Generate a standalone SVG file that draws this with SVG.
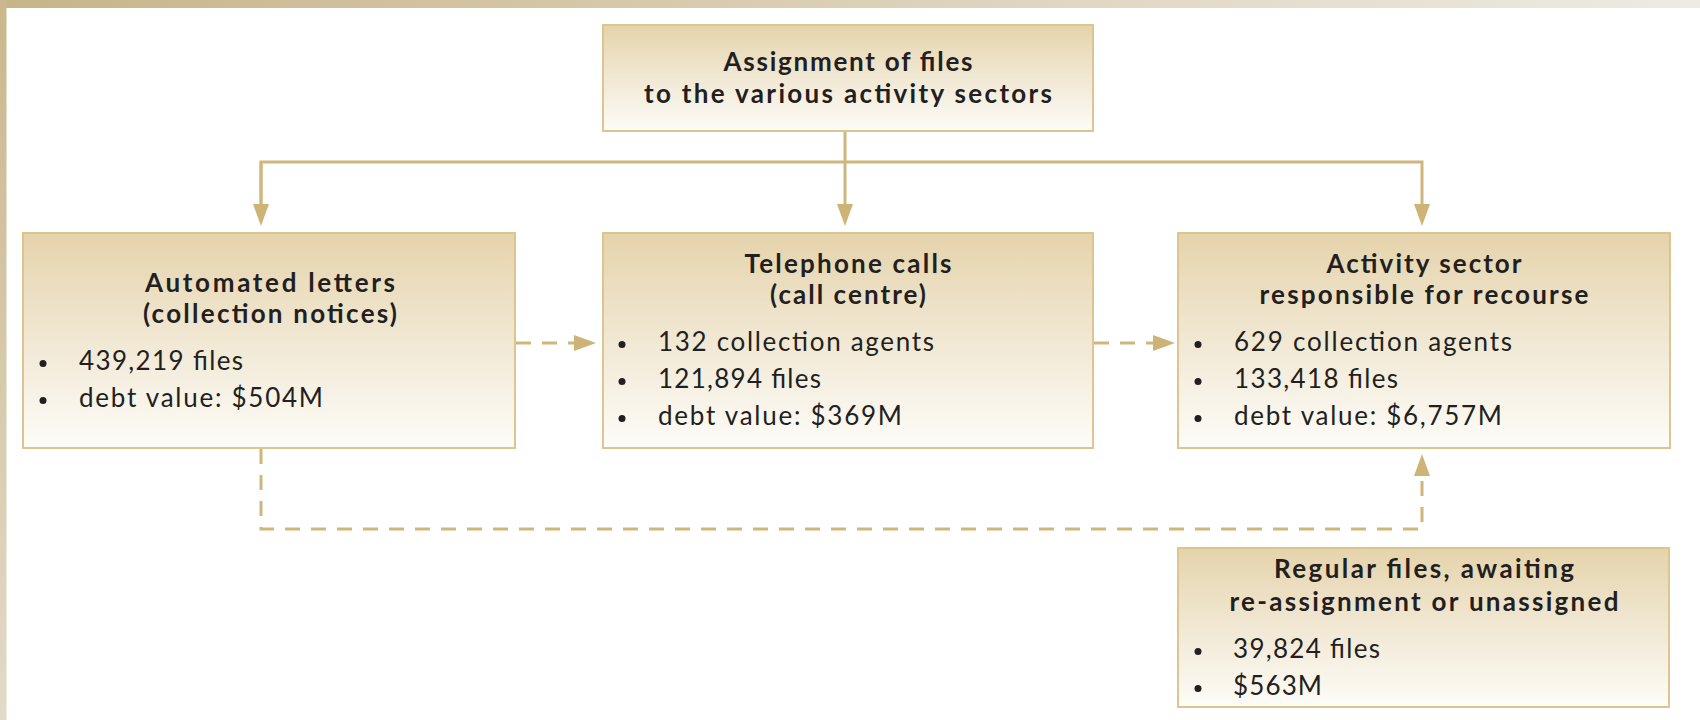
<svg xmlns="http://www.w3.org/2000/svg" width="1700" height="720" viewBox="0 0 1700 720">
  <defs>
    <linearGradient id="boxFill" x1="0" y1="0" x2="0" y2="1">
      <stop offset="0" stop-color="#e5d3ab"/>
      <stop offset="0.5" stop-color="#f1e8d4"/>
      <stop offset="1" stop-color="#fdfcf8"/>
    </linearGradient>
    <linearGradient id="topBand" x1="0" y1="0" x2="1" y2="0">
      <stop offset="0" stop-color="#c8b489"/>
      <stop offset="1" stop-color="#efebe3"/>
    </linearGradient>
    <linearGradient id="leftBand" x1="0" y1="0" x2="0" y2="1">
      <stop offset="0" stop-color="#cbb78d"/>
      <stop offset="1" stop-color="#e2dac8"/>
    </linearGradient>
    <marker id="arrow" viewBox="0 0 22 16" refX="1" refY="8" markerWidth="22" markerHeight="16" markerUnits="userSpaceOnUse" orient="auto">
      <path d="M0,0 L22,8 L0,16 Z" fill="#cdb376"/>
    </marker>
    <style>
      .box { fill: url(#boxFill); stroke: #dcc58e; stroke-width: 2; }
      .title { font-family: Lato, "Open Sans", "DejaVu Sans", sans-serif; font-weight: 700; font-size: 26px; fill: #231f20; text-anchor: middle; }
      .item { font-family: Lato, "Open Sans", "DejaVu Sans", sans-serif; font-weight: 400; font-size: 26px; fill: #231f20; }
      .dot { fill: #231f20; }
      .solid { fill: none; stroke: #cfb77c; stroke-width: 3; }
      .dashed { fill: none; stroke: #cfb77c; stroke-width: 3; stroke-dasharray: 15 11; }
    </style>
  </defs>

  <rect x="0" y="0" width="1700" height="720" fill="#ffffff"/>
  <rect x="0" y="0" width="1700" height="8" fill="url(#topBand)"/>
  <rect x="0" y="0" width="6.5" height="720" fill="url(#leftBand)"/>

  <g id="connectors">
    <path class="solid" d="M845,131 V205" marker-end="url(#arrow)"/>
    <path class="solid" d="M261,205 V162 H1422 V205" marker-end="url(#arrow)"/>
    <path class="solid" d="M261,162 V205" marker-end="url(#arrow)"/>
    <path class="dashed" d="M516,343 H575" marker-end="url(#arrow)"/>
    <path class="dashed" d="M1094,343 H1154" marker-end="url(#arrow)"/>
    <path class="dashed" d="M261,449 V529 H1422 V475" marker-end="url(#arrow)"/>
  </g>

  <g id="node-assignment">
    <rect class="box" x="603" y="25" width="490" height="106"/>
    <text class="title" x="848" y="71" textLength="249" lengthAdjust="spacing">Assignment of files</text>
    <text class="title" x="848" y="103" textLength="408" lengthAdjust="spacing">to the various activity sectors</text>
  </g>

  <g id="node-letters">
    <rect class="box" x="23" y="233" width="492" height="215"/>
    <text class="title" x="270" y="292" textLength="250" lengthAdjust="spacing">Automated letters</text>
    <text class="title" x="270" y="323" textLength="254" lengthAdjust="spacing">(collection notices)</text>
    <circle class="dot" cx="43" cy="363.5" r="3.5"/>
    <text class="item" x="79" y="370" textLength="164" lengthAdjust="spacing">439,219 files</text>
    <circle class="dot" cx="43" cy="400.5" r="3.5"/>
    <text class="item" x="79" y="407" textLength="244" lengthAdjust="spacing">debt value: $504M</text>
  </g>

  <g id="node-telephone">
    <rect class="box" x="603" y="233" width="490" height="215"/>
    <text class="title" x="848" y="273" textLength="207" lengthAdjust="spacing">Telephone calls</text>
    <text class="title" x="848" y="304" textLength="156" lengthAdjust="spacing">(call centre)</text>
    <circle class="dot" cx="622" cy="344.5" r="3.5"/>
    <text class="item" x="658" y="351" textLength="276" lengthAdjust="spacing">132 collection agents</text>
    <circle class="dot" cx="622" cy="381.5" r="3.5"/>
    <text class="item" x="658" y="388" textLength="163" lengthAdjust="spacing">121,894 files</text>
    <circle class="dot" cx="622" cy="418.5" r="3.5"/>
    <text class="item" x="658" y="425" textLength="244" lengthAdjust="spacing">debt value: $369M</text>
  </g>

  <g id="node-recourse">
    <rect class="box" x="1178" y="233" width="492" height="215"/>
    <text class="title" x="1424" y="273" textLength="195" lengthAdjust="spacing">Activity sector</text>
    <text class="title" x="1424" y="304" textLength="329" lengthAdjust="spacing">responsible for recourse</text>
    <circle class="dot" cx="1198" cy="344.5" r="3.5"/>
    <text class="item" x="1234" y="351" textLength="278" lengthAdjust="spacing">629 collection agents</text>
    <circle class="dot" cx="1198" cy="381.5" r="3.5"/>
    <text class="item" x="1234" y="388" textLength="164" lengthAdjust="spacing">133,418 files</text>
    <circle class="dot" cx="1198" cy="418.5" r="3.5"/>
    <text class="item" x="1234" y="425" textLength="268" lengthAdjust="spacing">debt value: $6,757M</text>
  </g>

  <g id="node-regular">
    <rect class="box" x="1178" y="548" width="491" height="159"/>
    <text class="title" x="1424" y="578" textLength="300" lengthAdjust="spacing">Regular files, awaiting</text>
    <text class="title" x="1424" y="611" textLength="389" lengthAdjust="spacing">re-assignment or unassigned</text>
    <circle class="dot" cx="1198" cy="651.5" r="3.5"/>
    <text class="item" x="1233" y="658" textLength="147" lengthAdjust="spacing">39,824 files</text>
    <circle class="dot" cx="1198" cy="688.5" r="3.5"/>
    <text class="item" x="1233" y="695" textLength="89" lengthAdjust="spacing">$563M</text>
  </g>
</svg>
